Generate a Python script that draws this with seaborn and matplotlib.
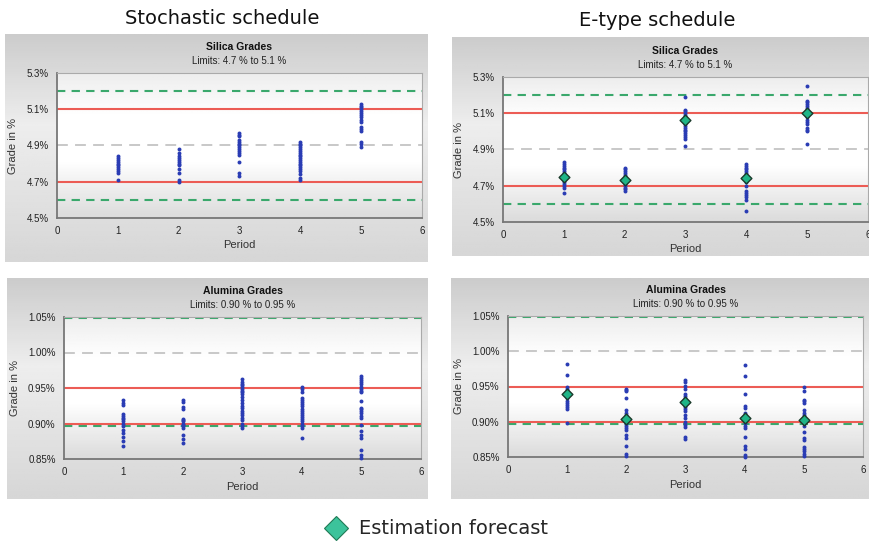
import numpy as np
import pandas as pd
import matplotlib
matplotlib.use("Agg")
import matplotlib.pyplot as plt
import seaborn as sns
from matplotlib.lines import Line2D
from matplotlib.ticker import FuncFormatter

# ---------------- data ----------------
periods = [1, 2, 3, 4, 5]

stoch_silica = {
    1: [4.71, 4.75, 4.76, 4.77, 4.78, 4.79, 4.80, 4.81, 4.82, 4.83, 4.84],
    2: [4.70, 4.71, 4.75, 4.77, 4.79, 4.80, 4.81, 4.82, 4.83, 4.84, 4.86, 4.88],
    3: [4.73, 4.75, 4.81, 4.85, 4.86, 4.87, 4.88, 4.89, 4.90, 4.91, 4.92, 4.93, 4.95, 4.96, 4.97],
    4: [4.71, 4.72, 4.74, 4.76, 4.77, 4.78, 4.79, 4.80, 4.81, 4.82, 4.83, 4.84, 4.85, 4.86,
        4.87, 4.88, 4.89, 4.90, 4.91, 4.92],
    5: [4.89, 4.91, 4.92, 4.98, 4.99, 5.00, 5.03, 5.04, 5.06, 5.07, 5.08, 5.09, 5.10, 5.11, 5.12, 5.13],
}
etype_silica = {
    1: [4.66, 4.69, 4.70, 4.71, 4.72, 4.73, 4.74, 4.75, 4.76, 4.77, 4.78, 4.79, 4.80, 4.81, 4.82, 4.83],
    2: [4.67, 4.68, 4.69, 4.70, 4.71, 4.72, 4.73, 4.74, 4.75, 4.76, 4.77, 4.78, 4.79, 4.80],
    3: [4.92, 4.96, 4.97, 4.98, 4.99, 5.00, 5.01, 5.02, 5.03, 5.04, 5.05, 5.06, 5.07, 5.08,
        5.09, 5.10, 5.11, 5.12, 5.19],
    4: [4.56, 4.62, 4.64, 4.65, 4.66, 4.67, 4.70, 4.72, 4.73, 4.74, 4.75, 4.76, 4.77, 4.78,
        4.79, 4.80, 4.81, 4.82],
    5: [4.93, 5.00, 5.01, 5.02, 5.04, 5.05, 5.06, 5.08, 5.09, 5.10, 5.11, 5.12, 5.13, 5.14,
        5.15, 5.16, 5.17, 5.25],
}
etype_silica_forecast = [4.75, 4.73, 5.06, 4.74, 5.10]

stoch_alumina = {
    1: [0.868, 0.876, 0.881, 0.886, 0.891, 0.897, 0.900, 0.903, 0.906, 0.908, 0.911, 0.913,
        0.926, 0.929, 0.933],
    2: [0.872, 0.878, 0.884, 0.893, 0.896, 0.898, 0.900, 0.903, 0.905, 0.907, 0.921, 0.923,
        0.930, 0.933],
    3: [0.893, 0.896, 0.900, 0.905, 0.908, 0.912, 0.915, 0.918, 0.922, 0.925, 0.929, 0.933,
        0.938, 0.941, 0.944, 0.946, 0.949, 0.951, 0.954, 0.956, 0.959, 0.962],
    4: [0.879, 0.893, 0.896, 0.900, 0.903, 0.906, 0.909, 0.912, 0.915, 0.918, 0.921, 0.924,
        0.927, 0.930, 0.933, 0.936, 0.944, 0.948, 0.952],
    5: [0.852, 0.855, 0.862, 0.880, 0.884, 0.890, 0.898, 0.908, 0.911, 0.915, 0.917, 0.920,
        0.922, 0.931, 0.944, 0.946, 0.949, 0.952, 0.955, 0.958, 0.961, 0.964, 0.967],
}
etype_alumina = {
    1: [0.898, 0.918, 0.921, 0.924, 0.927, 0.930, 0.933, 0.936, 0.940, 0.943, 0.946, 0.950,
        0.966, 0.982],
    2: [0.851, 0.854, 0.866, 0.877, 0.881, 0.888, 0.891, 0.894, 0.897, 0.900, 0.903, 0.906,
        0.909, 0.912, 0.916, 0.933, 0.943, 0.945, 0.947],
    3: [0.876, 0.879, 0.893, 0.896, 0.899, 0.906, 0.909, 0.915, 0.918, 0.921, 0.924, 0.927,
        0.930, 0.933, 0.937, 0.940, 0.946, 0.951, 0.956, 0.959],
    4: [0.850, 0.853, 0.862, 0.865, 0.879, 0.891, 0.894, 0.898, 0.904, 0.906, 0.910, 0.912,
        0.920, 0.923, 0.939, 0.965, 0.981],
    5: [0.851, 0.854, 0.858, 0.861, 0.864, 0.874, 0.877, 0.885, 0.894, 0.900, 0.906, 0.909,
        0.912, 0.916, 0.926, 0.929, 0.931, 0.944, 0.950],
}
etype_alumina_forecast = [0.939, 0.904, 0.928, 0.906, 0.902]

silica_limits = [4.7, 5.1]
silica_outer = [4.6, 5.2]
silica_mid = [4.9]
silica_ticks = [4.5, 4.7, 4.9, 5.1, 5.3]

alumina_limits = [0.90, 0.95]
alumina_outer = [0.897, 1.048]
alumina_mid = [1.00]
alumina_ticks = [0.85, 0.90, 0.95, 1.00, 1.05]

col_titles = ["Stochastic schedule", "E-type schedule"]
legend_label = "Estimation forecast"

# ---------------- styling ----------------
sns.set_theme(style="white")
plt.rcParams["font.family"] = ["Liberation Sans", "DejaVu Sans"]

W, H = 870, 542
fig = plt.figure(figsize=(W / 100, H / 100), dpi=100)
fig.patch.set_facecolor("white")

DOT = "#2a3cb4"
RED = "#ec5c55"
GREEN = "#3aa86c"
GRAY = "#c4c4c4"
DIAM = "#1fb587"


def px_rect(l, t, r, b):
    return [l / W, (H - b) / H, (r - l) / W, (b - t) / H]


def panel_bg(l, t, r, b):
    bg = fig.add_axes(px_rect(l, t, r, b), zorder=-10)
    grad = np.concatenate([np.linspace(0.80, 0.93, 40), np.linspace(0.93, 0.84, 60)])
    img = np.repeat(grad[:, None], 2, axis=1)
    bg.imshow(img, cmap="gray", vmin=0, vmax=1, aspect="auto", extent=[0, 1, 0, 1])
    bg.set_axis_off()


def to_df(d):
    rows = [(p, v) for p in periods for v in d[p]]
    return pd.DataFrame(rows, columns=["Period", "Grade"])


def make_panel(box, axbox, data, forecast, limits, outer, mid, ticks, title, subtitle, fmt):
    panel_bg(*box)
    ax = fig.add_axes(px_rect(*axbox), zorder=0)
    # plot area gradient
    grad = np.concatenate([np.linspace(0.93, 1.0, 30), np.full(30, 1.0), np.linspace(1.0, 0.86, 40)])
    img = np.repeat(grad[:, None], 2, axis=1)
    ax.imshow(img, cmap="gray", vmin=0, vmax=1, aspect="auto",
              extent=[0, 1, 0, 1], transform=ax.transAxes, zorder=-5)
    for y in mid:
        ax.axhline(y, color=GRAY, lw=1.3, ls=(0, (6, 4)), zorder=1)
    for y in outer:
        ax.axhline(y, color=GREEN, lw=1.5, ls=(0, (4, 3)), zorder=1)
    for y in limits:
        ax.axhline(y, color=RED, lw=1.5, zorder=2)
    df = to_df(data)
    sns.scatterplot(data=df, x="Period", y="Grade", ax=ax, color=DOT, s=8,
                    linewidth=0, zorder=3, legend=False, clip_on=False)
    if forecast is not None:
        fdf = pd.DataFrame({"Period": periods, "Grade": forecast})
        sns.scatterplot(data=fdf, x="Period", y="Grade", ax=ax, color=DIAM, marker="D",
                        s=30, edgecolor="#1a3a2a", linewidth=1.0, zorder=4, legend=False)
    ax.set_xlim(0, 6)
    ax.set_ylim(ticks[0], ticks[-1])
    ax.set_xticks(range(7))
    ax.set_yticks(ticks)
    ax.yaxis.set_major_formatter(FuncFormatter(fmt))
    ax.tick_params(axis="both", labelsize=7, length=3, width=0.8,
                   direction="out", pad=3, colors="#555555", labelcolor="#222222")
    for s in ["left", "bottom"]:
        ax.spines[s].set_color("#777777")
        ax.spines[s].set_linewidth(1.3)
    for s in ["top", "right"]:
        ax.spines[s].set_color("#aaaaaa")
        ax.spines[s].set_linewidth(0.8)
    ax.set_xlabel("Period", fontsize=8, color="#333333", labelpad=3)
    ax.set_ylabel("Grade in %", fontsize=8, color="#333333", labelpad=6)
    cx = (axbox[0] + axbox[2]) / 2 / W
    fig.text(cx, 1 - (axbox[1] - 26) / H, title, ha="center", va="center",
             fontsize=7.5, fontweight="bold", color="#111111")
    fig.text(cx, 1 - (axbox[1] - 12) / H, subtitle, ha="center", va="center",
             fontsize=7, color="#222222")
    return ax


fmt1 = lambda v, p: f"{v:.1f}%"
fmt2 = lambda v, p: f"{v:.2f}%"

make_panel((5, 34, 428, 262), (57, 73, 422, 218), stoch_silica, None,
           silica_limits, silica_outer, silica_mid, silica_ticks,
           "Silica Grades", "Limits: 4.7 % to 5.1 %", fmt1)
make_panel((452, 37, 870, 256), (503, 77, 868, 222), etype_silica, etype_silica_forecast,
           silica_limits, silica_outer, silica_mid, silica_ticks,
           "Silica Grades", "Limits: 4.7 % to 5.1 %", fmt1)
make_panel((7, 278, 428, 499), (64, 317, 421, 459), stoch_alumina, None,
           alumina_limits, alumina_outer, alumina_mid, alumina_ticks,
           "Alumina Grades", "Limits: 0.90 % to 0.95 %", fmt2)
make_panel((451, 278, 870, 499), (508, 316, 863, 457), etype_alumina, etype_alumina_forecast,
           alumina_limits, alumina_outer, alumina_mid, alumina_ticks,
           "Alumina Grades", "Limits: 0.90 % to 0.95 %", fmt2)

fig.text(222 / W, 1 - 18 / H, col_titles[0], ha="center", va="center",
         fontsize=14, color="#111111", family=["DejaVu Sans"])
fig.text(657 / W, 1 - 20 / H, col_titles[1], ha="center", va="center",
         fontsize=14, color="#111111", family=["DejaVu Sans"])

handle = Line2D([], [], marker="D", color="none", markerfacecolor="#3cc39b",
                markeredgecolor="#1f7a55", markersize=12, markeredgewidth=0.8)
fig.legend([handle], [legend_label], loc="center", bbox_to_anchor=(436 / W, 1 - 529 / H),
           frameon=False, handletextpad=0.6, handlelength=1.2,
           prop={"family": ["DejaVu Sans"], "size": 14})

fig.savefig("out.png", dpi=100, facecolor="white")
